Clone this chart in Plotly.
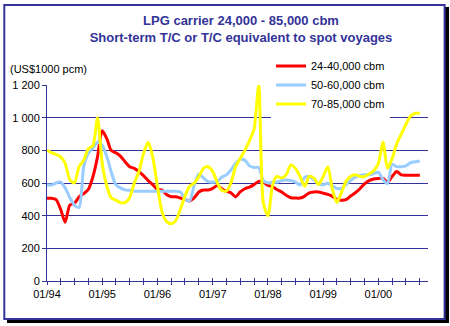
import pandas as pd
import plotly.graph_objects as go

# Monthly T/C rates, US$1000 per calendar month, Jan 1994 - Oct 2000
months = pd.date_range("1994-01-01", periods=82, freq="MS")

rate_24_40 = [
    506, 506, 500, 440, 360, 465, 475, 515, 535, 560, 640, 760,
    920, 870, 800, 785, 765, 730, 700, 690, 670, 645, 615, 590,
    560, 557, 530, 516, 516, 508, 500, 490, 510, 545, 557, 557,
    567, 585, 565, 550, 540, 516, 545, 565, 575, 590, 610, 605,
    585, 577, 560, 545, 525, 510, 508, 508, 520, 540, 545, 545,
    538, 530, 520, 500, 495, 498, 520, 540, 565, 595, 615, 625,
    628, 628, 605, 640, 670, 650, 648, 648, 648, 648,
]

rate_50_60 = [
    590, 588, 600, 605, 570, 510, 465, 450, 700, 780, 815, 850,
    830, 760, 670, 590, 570, 558, 555, 550, 550, 550, 550, 550,
    550, 550, 550, 550, 550, 545, 505, 490, 590, 655, 630, 608,
    605, 610, 635, 650, 680, 720, 745, 740, 705, 695, 695, 615,
    600, 605, 605, 615, 618, 615, 605, 588, 635, 638, 620, 595,
    590, 598, 585, 567, 567, 590, 615, 635, 645, 650, 650, 658,
    665, 620, 595, 715, 700, 700, 705, 725, 730, 735,
]

rate_70_85 = [
    800, 785, 775, 760, 720, 620, 600, 700, 740, 810, 830, 1000,
    720, 580, 510, 495, 480, 480, 510, 600, 670, 780, 850, 760,
    580, 420, 365, 350, 370, 440, 520, 580, 600, 640, 690, 700,
    670, 600, 555, 550, 600, 700, 750, 800, 860, 930, 1200, 480,
    400, 590, 640, 630, 650, 710, 690, 640, 580, 640, 630, 590,
    640, 700, 570, 480, 540, 610, 640, 650, 640, 640, 655, 675,
    720, 850, 690, 750, 840, 900, 960, 1010, 1027, 1027,
]

series = [
    ("24-40,000 cbm", rate_24_40, "#FF0000"),
    ("50-60,000 cbm", rate_50_60, "#99CCFF"),
    ("70-85,000 cbm", rate_70_85, "#FFFF00"),
]

y_ticks = [0, 200, 400, 600, 800, 1000, 1200]
y_tick_text = ["0", "200", "400", "600", "800", "1 000", "1 200"]

quarter_ticks = pd.date_range("1994-01-01", "2000-10-01", freq="QS")
quarter_text = [d.strftime("%m/%y") if d.month == 1 else "" for d in quarter_ticks]

NAVY = "#333399"
FONT = "Liberation Sans, Arial, sans-serif"

W, H = 450, 326
L, R, T, B = 47, 22, 85, 45


def px_x(p):
    return (p - L) / (W - L - R)


def px_y(p):
    return (H - B - p) / (H - T - B)


fig = go.Figure()
for name, values, color in series:
    fig.add_trace(go.Scatter(
        x=months, y=values, name=name, mode="lines",
        line=dict(color=color, width=3, shape="spline", smoothing=0.7),
    ))

# twin axis carrying inward tick marks so the ticks cross the axis line
fig.add_trace(go.Scatter(
    x=months, y=rate_24_40, xaxis="x2", mode="lines",
    line=dict(width=0), showlegend=False, hoverinfo="skip", opacity=0,
))

axis_range = ["1994-01-01", "2000-11-24"]

fig.update_layout(
    width=W, height=H,
    margin=dict(l=L, r=R, t=T, b=B),
    paper_bgcolor="white",
    plot_bgcolor="white",
    font=dict(family=FONT, size=11, color="black"),
    showlegend=True,
    legend=dict(
        x=px_x(271), y=px_y(51.5), xanchor="left", yanchor="top",
        bgcolor="white", borderwidth=0,
        font=dict(family=FONT, size=11, color="black"),
        tracegroupgap=0, itemwidth=30,
    ),
    title=dict(
        text="LPG carrier 24,000 - 85,000 cbm<br>Short-term T/C or T/C equivalent to spot voyages",
        x=241 / W, xanchor="center",
        y=1 - 25 / H, yanchor="top",
        font=dict(family=FONT, size=13, color=NAVY, weight="bold"),
    ),
    xaxis=dict(
        type="date", range=axis_range,
        tickmode="array", tickvals=quarter_ticks, ticktext=quarter_text,
        ticks="outside", ticklen=3, tickcolor=NAVY, tickwidth=1,
        showline=True, linecolor=NAVY, linewidth=1,
        showgrid=False, zeroline=False,
        tickfont=dict(family=FONT, size=11, color="black"),
    ),
    xaxis2=dict(
        type="date", range=axis_range, overlaying="x", anchor="y", side="bottom",
        tickmode="array", tickvals=quarter_ticks, ticktext=[""] * len(quarter_ticks),
        ticks="inside", ticklen=3, tickcolor=NAVY, tickwidth=1,
        showline=False, showgrid=False, zeroline=False, showticklabels=False,
    ),
    yaxis=dict(
        range=[0, 1200],
        tickmode="array", tickvals=y_ticks, ticktext=y_tick_text,
        ticks="outside", ticklen=4, tickcolor=NAVY, tickwidth=1,
        showline=True, linecolor=NAVY, linewidth=1,
        showgrid=True, gridcolor=NAVY, gridwidth=1, zeroline=False,
        tickfont=dict(family=FONT, size=11, color="black"),
    ),
    shapes=[
        # drop shadow of the chart frame
        dict(type="rect", xref="paper", yref="paper", layer="below",
             x0=px_x(7), x1=px_x(449), y0=px_y(7), y1=px_y(323),
             fillcolor="black", line=dict(width=0)),
        # chart frame
        dict(type="rect", xref="paper", yref="paper", layer="below",
             x0=px_x(4.3), x1=px_x(444.6), y0=px_y(5), y1=px_y(319),
             fillcolor="white", line=dict(color=NAVY, width=2)),
    ],
    annotations=[
        dict(text="(US$1000 pcm)", xref="paper", yref="paper",
             x=px_x(8), y=px_y(69), xanchor="left", yanchor="middle",
             showarrow=False, font=dict(family=FONT, size=11, color="black")),
    ],
)

fig.write_html("out.html")
